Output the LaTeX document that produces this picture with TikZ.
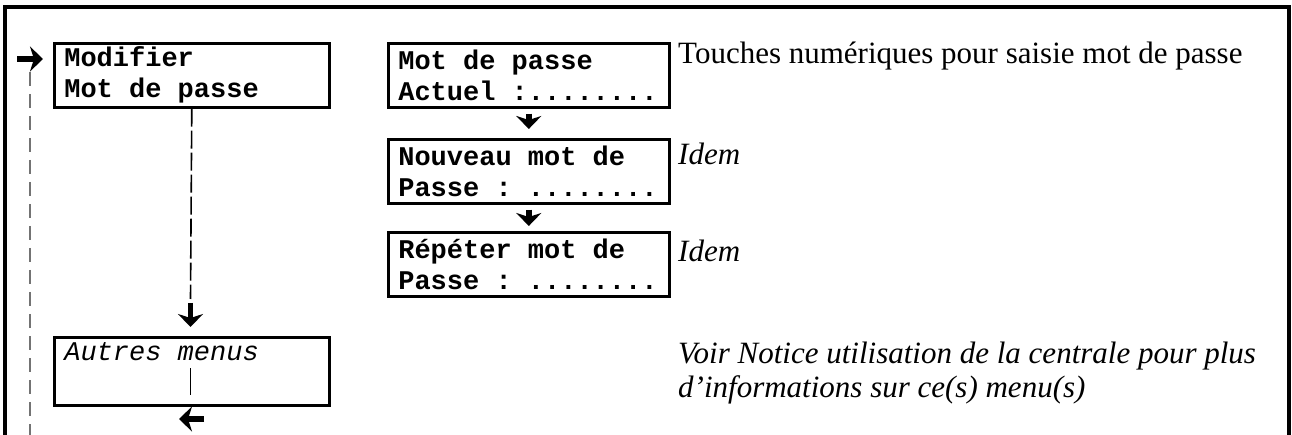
\documentclass[tikz,border=0pt]{standalone}
\usepackage{fontspec}
\setmainfont{Liberation Serif}
\newfontfamily\courfam{Liberation Mono}
\usetikzlibrary{arrows.meta}
\newcommand\courbox{\courfam\bfseries\fontsize{27}{31}\selectfont}
\newcommand\courit{\courfam\itshape\fontsize{27}{31}\selectfont}
\newcommand\serifsz{\fontsize{31}{34}\selectfont}
\newcommand\ws{\hspace*{0.6em}}
\begin{document}
\begin{tikzpicture}[x=1pt,y=1pt,
  menubox/.style={draw, line width=2.6pt, anchor=north west, minimum height=64pt,
    inner xsep=10pt, inner ysep=0pt, align=left, font=\courbox},
  bigarrow/.style={line width=5.5pt, -{Stealth[length=13pt,width=25pt,inset=4pt]}},
  note/.style={anchor=base west, inner sep=0pt, font=\serifsz},
  graydash/.style={draw=black!55, line width=2.2pt, dash pattern=on 14pt off 8pt},
  blackdash/.style={draw=black, line width=1.6pt, dash pattern=on 18pt off 4pt}]
\useasboundingbox (0,0) rectangle (1292,-435);
% outer frame
\draw[line width=3.2pt] (5,-435) -- (5,-7) -- (1289,-7) -- (1289,-435);
% left menu column
\node[menubox, minimum width=275pt, text width=255pt] (m1) at (53,-42) {Modifier\\Mot\ws de\ws passe};
\node[menubox, minimum width=275pt, text width=255pt, minimum height=68pt, font=\courit] (m2) at (53,-336) {Autres\ws menus\\\strut};
% password boxes
\node[menubox, minimum width=281pt, text width=261pt] (p1) at (387,-42) {Mot\ws de\ws passe\\Actuel\ws:........};
\node[menubox, minimum width=281pt, text width=261pt] (p2) at (387,-138) {Nouveau\ws mot\ws de\\Passe\ws:\ws........};
\node[menubox, minimum width=281pt, text width=261pt] (p3) at (387,-231) {Répéter\ws mot\ws de\\Passe\ws:\ws........};
% notes
\node[note] (t1) at (678,-64) {Touches numériques pour saisie mot de passe};
\node[note, font=\serifsz\itshape] (t2) at (678,-165) {Idem};
\node[note, font=\serifsz\itshape] (t3) at (678,-262) {Idem};
\node[note, font=\serifsz\itshape] (t4) at (678,-363) {Voir Notice utilisation de la centrale pour plus};
\node[note, font=\serifsz\itshape] (t5) at (678,-397) {d’informations sur ce(s) menu(s)};
% coordinates
\coordinate (ga) at (30,-72);
\coordinate (gb) at (30,-435);
\coordinate (ra) at (17,-59);
\coordinate (rb) at (43,-59);
\coordinate (da) at (190.5,-299);
\coordinate (db) at (190.5,-303);
\coordinate (dc) at (190.5,-327);
\coordinate (ia) at (190.5,-368);
\coordinate (ib) at (190.5,-395);
\coordinate (la) at (204,-419);
\coordinate (lb) at (179,-419);
% connectors
\draw[graydash] (ga) -- (gb);
\draw[bigarrow] (ra) -- (rb);
\draw[blackdash] (m1.south) -- (da);
\draw[bigarrow] (db) -- (dc);
\draw[line width=1.6pt] (ia) -- (ib);
\draw[bigarrow] (la) -- (lb);
\draw[bigarrow] ([yshift=-5pt]p1.south) -- ([yshift=9pt]p2.north);
\draw[bigarrow] ([yshift=-5pt]p2.south) -- ([yshift=5pt]p3.north);
\end{tikzpicture}
\end{document}
